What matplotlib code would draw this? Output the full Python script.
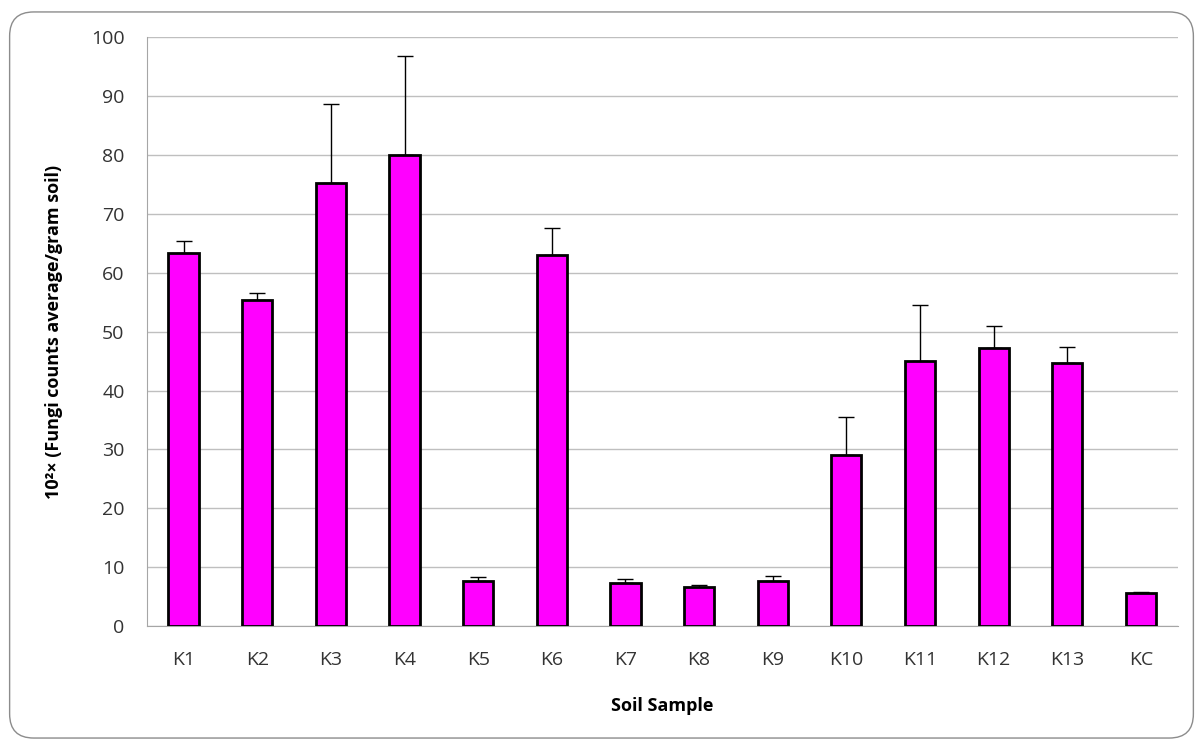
import matplotlib.pyplot as plt
from matplotlib.patches import FancyBboxPatch
import numpy as np

samples = ['K1', 'K2', 'K3', 'K4', 'K5', 'K6', 'K7', 'K8', 'K9', 'K10', 'K11', 'K12', 'K13', 'KC']
means = [63.3, 55.3, 75.3, 80.0, 7.7, 63.0, 7.3, 6.6, 7.7, 29.0, 45.0, 47.3, 44.7, 5.6]
errors = [2.1, 1.2, 13.4, 16.8, 0.6, 4.6, 0.7, 0.3, 0.8, 6.5, 9.6, 3.6, 2.7, 0.2]

plt.rcParams['font.family'] = ['Open Sans', 'DejaVu Sans']

fig = plt.figure(figsize=(12.03, 7.47), dpi=100)
border = FancyBboxPatch((0.008, 0.012), 0.984, 0.972, boxstyle='round,pad=0,rounding_size=0.02',
                        transform=fig.transFigure, facecolor='none', edgecolor='#8c8c8c',
                        linewidth=1.0, mutation_aspect=1203 / 747, zorder=-1)
fig.patches.append(border)

ax = fig.add_axes([0.122, 0.162, 0.857, 0.788])
ax.patch.set_alpha(0)
x = np.arange(len(samples))
ax.bar(x, means, width=0.41, color='#ff00ff', edgecolor='black', linewidth=2, zorder=3)
ax.errorbar(x, means, yerr=[np.zeros(len(errors)), errors], fmt='none', ecolor='black',
            elinewidth=1, capsize=6, capthick=1, zorder=2)

ax.set_xlim(-0.5, len(samples) - 0.5)
ax.set_ylim(0, 100)
ax.set_yticks(range(0, 101, 10))
ax.set_xticks(x)
ax.set_xticklabels(samples)
ax.tick_params(axis='both', length=0, labelsize=14, colors='#333333')
ax.tick_params(axis='y', pad=16)
ax.tick_params(axis='x', pad=18)
ax.yaxis.grid(True, color='#bfbfbf', linewidth=1, zorder=0)
ax.set_axisbelow(True)
for side in ['top', 'right']:
    ax.spines[side].set_visible(False)
ax.spines['left'].set_color('#a6a6a6')
ax.spines['bottom'].set_color('#a6a6a6')

ax.set_xlabel('Soil Sample', fontsize=13, fontweight='bold', labelpad=20)
ax.set_ylabel('10²× (Fungi counts average/gram soil)', fontsize=13, fontweight='bold', labelpad=20)

fig.savefig('out.png', dpi=100)
